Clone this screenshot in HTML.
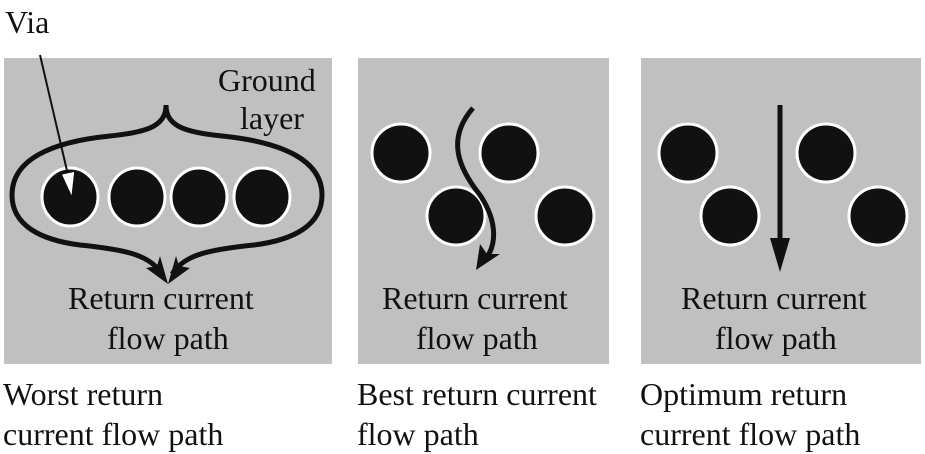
<!DOCTYPE html>
<html><head><style>
body{margin:0;width:925px;height:454px;background:#fff;overflow:hidden;position:relative;font-family:"Liberation Serif",serif;color:#111}
.t{position:absolute;font-size:32px;line-height:40px;white-space:nowrap}
</style></head><body>
<svg width="925" height="454" style="position:absolute;left:0;top:0">
<rect x="4" y="58" width="328" height="306" fill="#c0c0c0"/>
<rect x="358" y="58" width="251" height="306" fill="#c0c0c0"/>
<rect x="641" y="58" width="280" height="306" fill="#c0c0c0"/>
<g fill="#111" stroke="#fff" stroke-width="3">
<ellipse cx="70" cy="197" rx="28" ry="29"/><ellipse cx="137" cy="197" rx="28" ry="29"/><ellipse cx="199" cy="197" rx="28" ry="29"/><ellipse cx="262" cy="197" rx="28" ry="29"/>
<ellipse cx="401" cy="153" rx="29" ry="29"/><ellipse cx="509" cy="153" rx="29" ry="29"/><ellipse cx="456" cy="216" rx="29" ry="29"/><ellipse cx="565" cy="216" rx="29" ry="29"/>
<ellipse cx="688" cy="153" rx="29" ry="29"/><ellipse cx="826" cy="153" rx="29" ry="29"/><ellipse cx="730" cy="216" rx="29" ry="29"/><ellipse cx="878" cy="216" rx="29" ry="29"/>
</g>
<g fill="none" stroke="#111" stroke-width="5">
<path d="M166,105 C166,125 150,132 110,136 C50,142 12,160 12,195 C12,225 40,240 80,245 C130,250 150,256 162,274"/>
<path d="M166,105 C166,125 182,132 222,136 C282,142 322,160 322,195 C322,225 294,240 254,245 C204,250 184,256 172,274"/>
<path d="M473,108 C445,140 460,170 480,195 C500,225 495,250 484,260"/>
<path d="M780,105 L780,250"/>
</g>
<g fill="#111">
<path d="M168,284 L146,268 L157,266 L160,256Z"/>
<path d="M168,284 L190,268 L179,266 L176,256Z"/>
<path d="M476,270 L480,244 L487,254 L500,254Z"/>
<path d="M780,272 L770,238 L790,238Z"/>
</g>
<line x1="40" y1="55" x2="68" y2="175" stroke="#111" stroke-width="2"/>
<path d="M72,198 L61,174 L75,171Z" fill="#fff" stroke="#111" stroke-width="1.5"/>
</svg>
<div class="t" style="left:5px;top:2px">Via</div>
<div class="t" style="left:218px;top:60px">Ground</div>
<div class="t" style="left:240px;top:98px">layer</div>
<div class="t" style="left:68px;top:278px">Return current</div>
<div class="t" style="left:107px;top:318px">flow path</div>
<div class="t" style="left:382px;top:278px">Return current</div>
<div class="t" style="left:416px;top:318px">flow path</div>
<div class="t" style="left:681px;top:278px">Return current</div>
<div class="t" style="left:715px;top:318px">flow path</div>
<div class="t" style="left:3px;top:374px">Worst return</div>
<div class="t" style="left:3px;top:414px">current flow path</div>
<div class="t" style="left:357px;top:374px">Best return current</div>
<div class="t" style="left:357px;top:414px">flow path</div>
<div class="t" style="left:640px;top:374px">Optimum return</div>
<div class="t" style="left:640px;top:414px">current flow path</div>
</body></html>
